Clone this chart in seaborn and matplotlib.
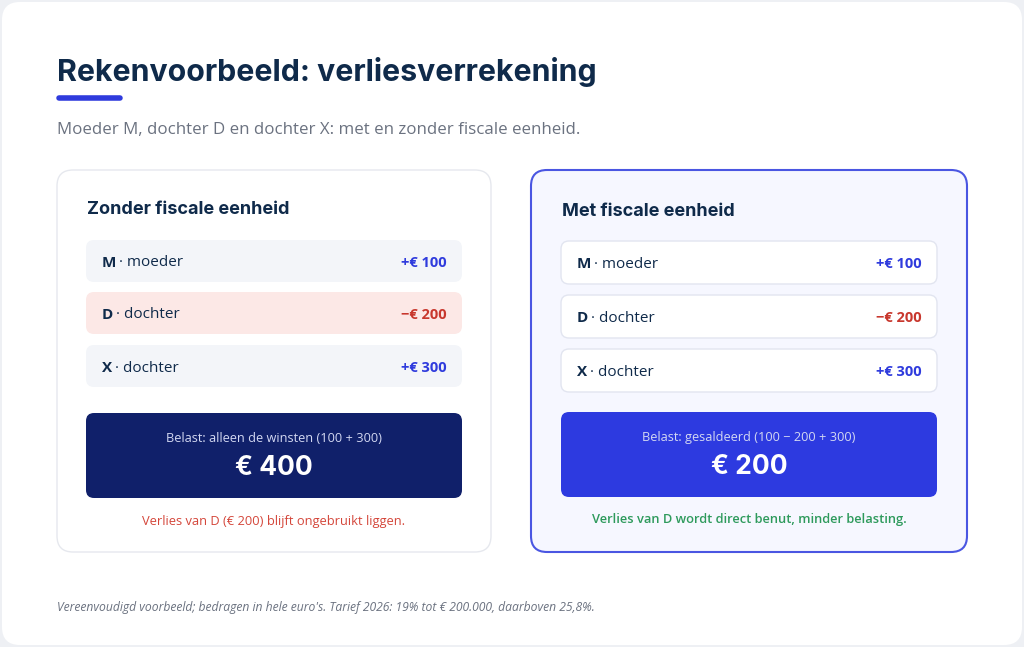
import matplotlib
matplotlib.use("Agg")
import matplotlib.pyplot as plt
from matplotlib.patches import FancyBboxPatch
import seaborn as sns

# ---- data ----
entities = ["M", "D", "X"]
roles = ["moeder", "dochter", "dochter"]
results = [100, -200, 300]
scenarios = ["Zonder fiscale eenheid", "Met fiscale eenheid"]
sum_labels = ["Belast: alleen de winsten (100 + 300)", "Belast: gesaldeerd (100 \u2212 200 + 300)"]
notes = ["Verlies van D (\u20ac 200) blijft ongebruikt liggen.",
         "Verlies van D wordt direct benut, minder belasting."]
title = "Rekenvoorbeeld: verliesverrekening"
subtitle = "Moeder M, dochter D en dochter X: met en zonder fiscale eenheid."
footnote = "Vereenvoudigd voorbeeld; bedragen in hele euro's. Tarief 2026: 19% tot \u20ac 200.000, daarboven 25,8%."

taxed = [sum(v for v in results if v > 0), sum(results)]

sns.set_theme(style="white")
plt.rcParams["font.family"] = ["Open Sans", "DejaVu Sans"]

NAVY = "#0f2a4a"
BLUE = "#2f3bdd"
RED = "#c8372d"
GREEN = "#2e9a5c"
GRAY = "#6b7280"

fig = plt.figure(figsize=(10.24, 6.47), dpi=100)
fig.patch.set_facecolor("#eef0f4")
ax = fig.add_axes([0, 0, 1, 1])
ax.set_xlim(0, 1024)
ax.set_ylim(647, 0)
ax.axis("off")


def rbox(x0, y0, x1, y1, r, fc, ec="none", lw=0, z=1):
    p = FancyBboxPatch((x0, y0), x1 - x0, y1 - y0,
                       boxstyle=f"round,pad=0,rounding_size={r}",
                       fc=fc, ec=ec, lw=lw, zorder=z)
    ax.add_patch(p)
    return p

# outer card
rbox(2, 2, 1022, 645, 18, "white", z=0)

ax.text(57, 72, title, fontsize=21.8, fontweight="bold", color=NAVY,
        family=["Inter", "DejaVu Sans"], va="center", ha="left")
ax.plot([59, 120], [98, 98], color=BLUE, lw=4, solid_capstyle="round")
ax.text(57, 130, subtitle, fontsize=12.2, color=GRAY, va="center", ha="left")

fig.canvas.draw()
renderer = fig.canvas.get_renderer()

cards = [
    dict(x0=57, x1=491, fc="white", ec="#e6e8ee", lw=1.0, rows_y=[240, 292, 345], row_h=42,
         row_fc=["#f3f5f9", "#fce8e6", "#f3f5f9"], row_ec="none", rx0=86, rx1=462,
         box=(86, 413, 462, 498), box_fc="#10206a", note_c="#d4463a", note_w="normal",
         head_x=87, head_y=210, note_y=521),
    dict(x0=531, x1=967, fc="#f6f7ff", ec="#4a56e2", lw=1.5, rows_y=[241, 295, 349], row_h=43,
         row_fc=["white", "white", "white"], row_ec="#e2e5f0", rx0=561, rx1=937,
         box=(561, 412, 937, 497), box_fc="#2d3ae0", note_c=GREEN, note_w="semibold",
         head_x=562, head_y=211, note_y=520),
]

for i, c in enumerate(cards):
    rbox(c["x0"], 170, c["x1"], 552, 16, c["fc"], c["ec"], c["lw"], z=1)
    ax.text(c["head_x"], c["head_y"], scenarios[i], fontsize=13.0, fontweight="bold",
            color=NAVY, family=["Inter", "DejaVu Sans"], va="center", ha="left", zorder=3)
    for j, (e, role, v) in enumerate(zip(entities, roles, results)):
        y0 = c["rows_y"][j]
        rbox(c["rx0"], y0, c["rx1"], y0 + c["row_h"], 8, c["row_fc"][j],
             c["row_ec"], 1.0 if c["row_ec"] != "none" else 0, z=2)
        yc = y0 + c["row_h"] / 2 + 2
        t = ax.text(c["rx0"] + 16, yc, e, fontsize=11, fontweight="bold", color=NAVY,
                    va="center", ha="left", zorder=3)
        bb = t.get_window_extent(renderer)
        ax.text(c["rx0"] + 16 + bb.width + 3, yc, "\u00b7 " + role, fontsize=11,
                color=NAVY, va="center", ha="left", zorder=3)
        sign = "+" if v > 0 else "\u2212"
        ax.text(c["rx1"] - 15, yc, f"{sign}\u20ac {abs(v)}", fontsize=10.5, fontweight="bold",
                color=BLUE if v > 0 else RED, va="center", ha="right", zorder=3)
    bx0, by0, bx1, by1 = c["box"]
    rbox(bx0, by0, bx1, by1, 8, c["box_fc"], z=2)
    cx = (bx0 + bx1) / 2
    ax.text(cx, by0 + 26, sum_labels[i], fontsize=9.2, color="#d3d8f2",
            va="center", ha="center", zorder=3)
    ax.text(cx, by0 + 55, f"\u20ac {taxed[i]}", fontsize=19, fontweight="bold", color="white",
            family=["Inter", "DejaVu Sans"], va="center", ha="center", zorder=3)
    ax.text(cx, c["note_y"], notes[i], fontsize=9.3, color=c["note_c"],
            fontweight=c["note_w"], va="center", ha="center", zorder=3)

ax.text(57, 608, footnote, fontsize=8.7, style="italic", color=GRAY,
        va="center", ha="left")

fig.savefig("out.png", dpi=100, facecolor=fig.get_facecolor())
